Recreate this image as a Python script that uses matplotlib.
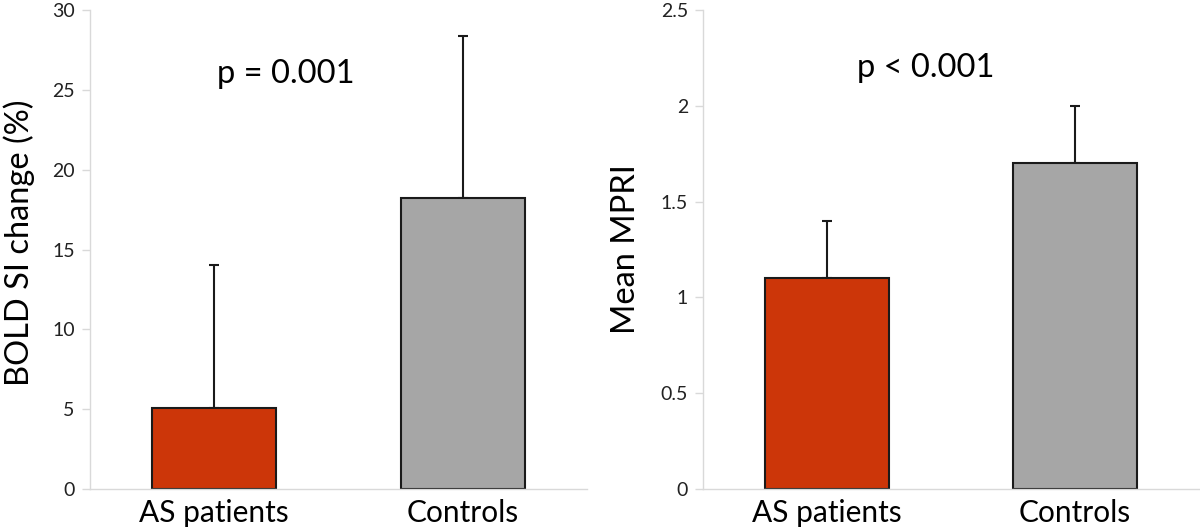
import matplotlib
matplotlib.use("Agg")
import matplotlib.pyplot as plt

plt.rcParams['font.family'] = ['Lato', 'DejaVu Sans']

groups = ["AS patients", "Controls"]
bold_mean = [5.1, 18.2]
bold_sd = [8.9, 10.2]
mpri_mean = [1.1, 1.7]
mpri_sd = [0.3, 0.3]
bar_colors = ["#cc3609", "#a6a6a6"]

fig = plt.figure(figsize=(12, 5.32), dpi=100)
ax1 = fig.add_axes([0.075, 0.081, 0.414, 0.900])
ax2 = fig.add_axes([0.586, 0.081, 0.413, 0.900])


def panel(ax, means, sds, ymax, step, ylabel, ticklabels, lpad):
    x = list(range(len(groups)))
    ax.bar(x, means, width=0.5, color=bar_colors, edgecolor="#1a1a1a",
           linewidth=1.5, zorder=2)
    ax.errorbar(x, means, yerr=[[0] * len(sds), sds], fmt="none",
                ecolor="#1a1a1a", elinewidth=1.5, capsize=3.5,
                capthick=1.5, zorder=1)
    ax.set_xlim(-0.5, 1.5)
    ax.set_ylim(0, ymax)
    ax.set_yticks([i * step for i in range(len(ticklabels))])
    ax.set_yticklabels(ticklabels)
    ax.set_xticks(x)
    ax.set_xticklabels(groups, fontsize=21.5)
    ax.tick_params(axis="x", length=0, pad=7)
    ax.tick_params(axis="y", length=6, width=1, color="#d9d9d9",
                   labelsize=14, labelcolor="#222222", pad=5)
    for s in ["top", "right"]:
        ax.spines[s].set_visible(False)
    for s in ["left", "bottom"]:
        ax.spines[s].set_color("#d9d9d9")
        ax.spines[s].set_linewidth(1)
    ax.set_ylabel(ylabel, fontsize=23.5, labelpad=lpad)


panel(ax1, bold_mean, bold_sd, 30, 5, "BOLD SI change (%)",
      ["0", "5", "10", "15", "20", "25", "30"], 10)
panel(ax2, mpri_mean, mpri_sd, 2.5, 0.5, "Mean MPRI",
      ["0", "0.5", "1", "1.5", "2", "2.5"], 14)
ax1.yaxis.set_label_coords(-0.11, 0.515)
ax1.text(0.29, 26.0, "p = 0.001", ha="center", va="center", fontsize=23.5)
ax2.text(0.40, 2.2, "p < 0.001", ha="center", va="center", fontsize=23.5)

fig.savefig("out.png", dpi=100)
